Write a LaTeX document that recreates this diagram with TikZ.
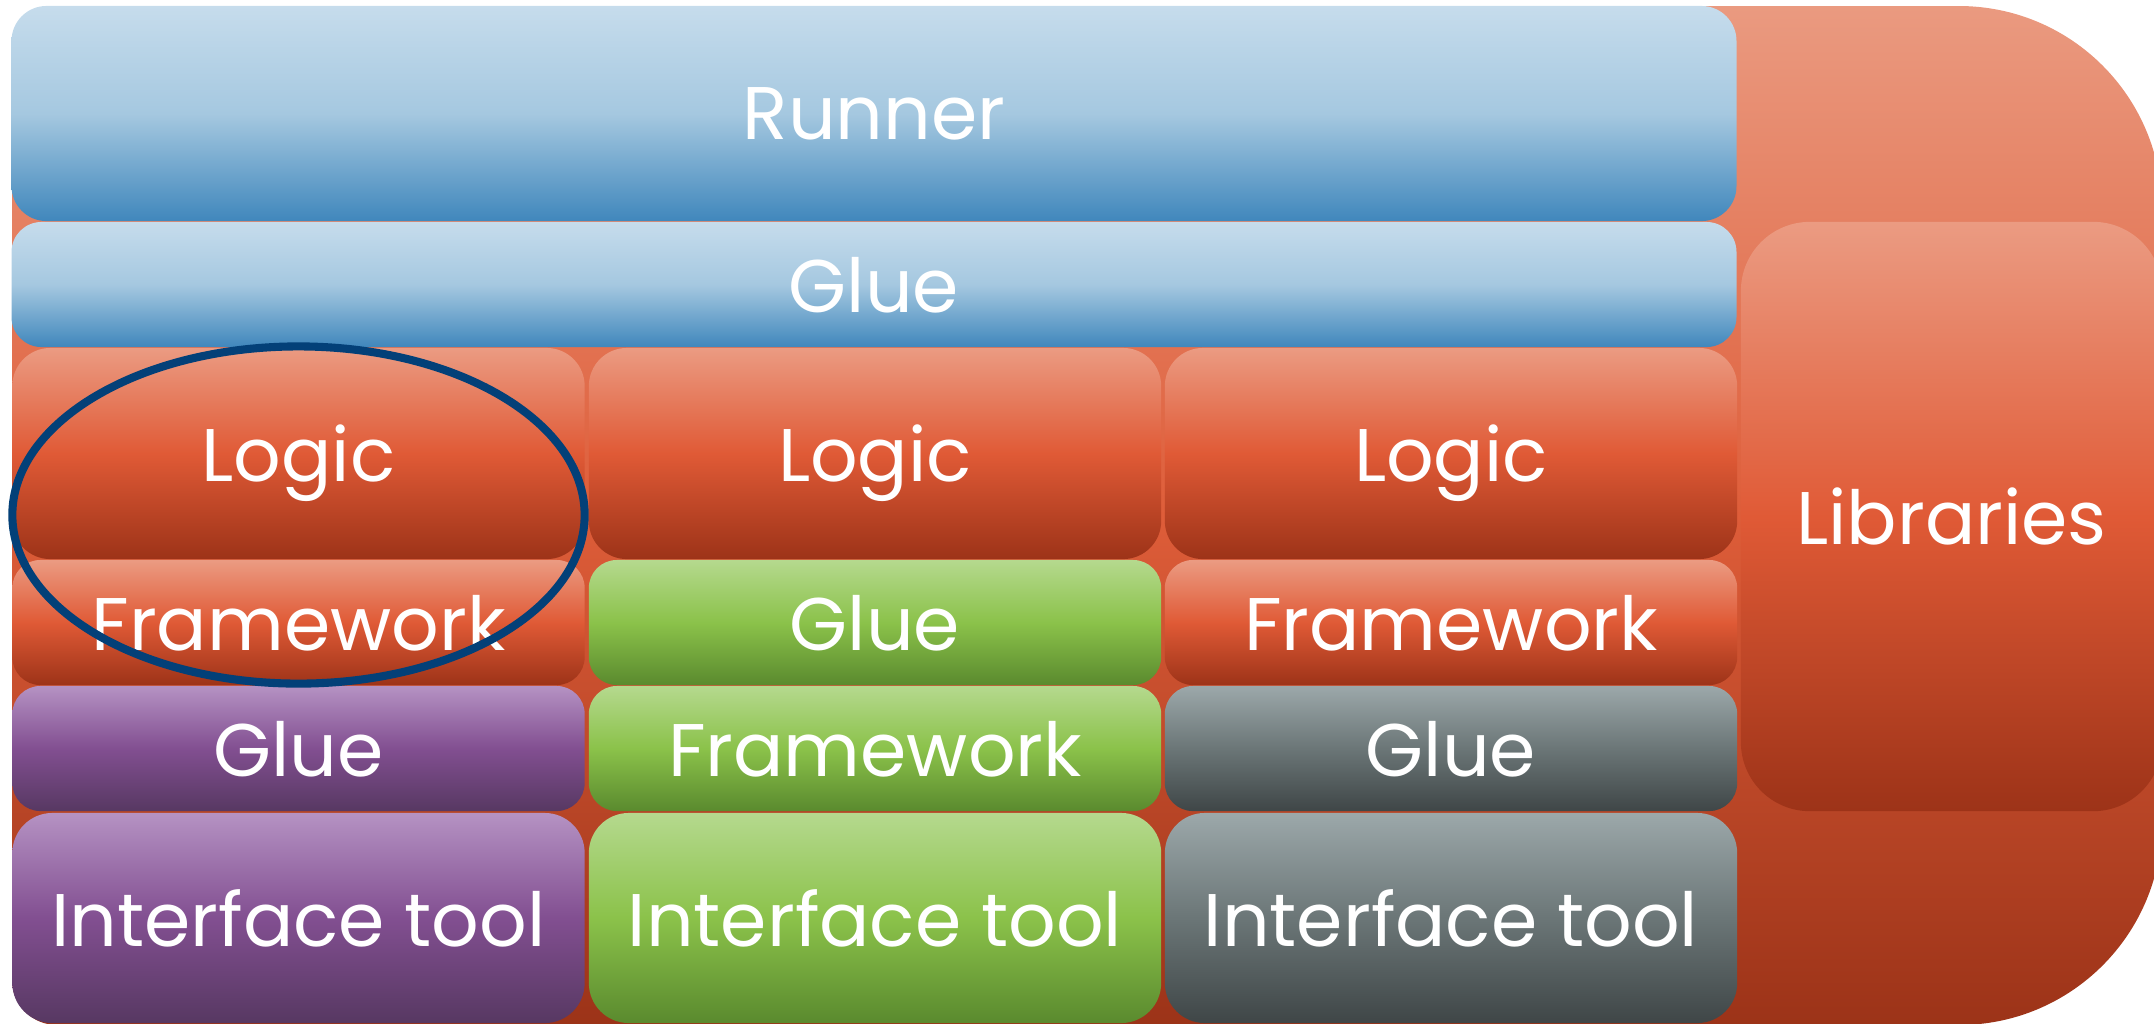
\documentclass[tikz,border=0pt]{standalone}
\usepackage{fontspec}
\setmainfont{Poppins}
\usetikzlibrary{shapes.geometric}

% gradient colours
\definecolor{blueTop}{HTML}{C6DCEC}
\definecolor{blueMid}{HTML}{A5C8E0}
\definecolor{blueBot}{HTML}{4087BC}
\definecolor{orTop}{HTML}{EB9B82}
\definecolor{orMid}{HTML}{E05A36}
\definecolor{orBot}{HTML}{9D3318}
\definecolor{grTop}{HTML}{B5D98E}
\definecolor{grMid}{HTML}{8BC24A}
\definecolor{grBot}{HTML}{5A8A2E}
\definecolor{puTop}{HTML}{B592C3}
\definecolor{puMid}{HTML}{824F91}
\definecolor{puBot}{HTML}{573862}
\definecolor{gyTop}{HTML}{9CA8AA}
\definecolor{gyMid}{HTML}{6B7677}
\definecolor{gyBot}{HTML}{3F4647}
\definecolor{bgTop}{HTML}{EA9A80}
\definecolor{bgMid}{HTML}{DE5D39}
\definecolor{bgBot}{HTML}{9C3318}
\definecolor{ringBlue}{HTML}{034078}

\tikzset{
  blk/.style={rectangle, rounded corners=#1, inner sep=0pt, text=white,
    text depth=0pt, font=\fontsize{21.2}{25}\selectfont},
  blueshade/.style={top color=blueTop, bottom color=blueBot, middle color=blueMid},
  orshade/.style={top color=orTop, bottom color=orBot, middle color=orMid},
  grshade/.style={top color=grTop, bottom color=grBot, middle color=grMid},
  pushade/.style={top color=puTop, bottom color=puBot, middle color=puMid},
  gyshade/.style={top color=gyTop, bottom color=gyBot, middle color=gyMid},
  bgshade/.style={top color=bgTop, bottom color=bgBot, middle color=bgMid},
  col/.style={minimum width=5.72cm},
  tallrow/.style={minimum height=2.11cm},
  thinrow/.style={minimum height=1.25cm},
  ring/.style={ellipse, draw=ringBlue, line width=2.3pt, inner sep=0pt}
}

\begin{document}
\begin{tikzpicture}[x=0.01cm, y=-0.01cm]
  \useasboundingbox (0,0) rectangle (2154,1023);
  \clip (0,0) rectangle (2154,1023);

  % backing panel: large rounding on the right, small on the left
  \path[bgshade] (1087,6) [rounded corners=2.03cm] -- (2162,6) -- (2162,1025)
    -- (1087,1025) [rounded corners=0.45cm] -- (12,1025) -- (12,6) -- cycle;

  % full-width layers
  \node[blk=0.35cm, blueshade, minimum width=17.24cm, minimum height=2.15cm]
    (runner) at (874,113.5) {Runner};
  \node[blk=0.30cm, blueshade, minimum width=17.24cm, thinrow]
    (glueTop) at (874,284.5) {Glue};

  % libraries column
  \node[blk=0.69cm, orshade, minimum width=4.21cm, minimum height=5.89cm]
    (libs) at (1951.5,516.5) {Libraries};

  % logic row
  \node[blk=0.38cm, orshade, col, tallrow] (logicA) at (298.5,453.5) {Logic};
  \node[blk=0.38cm, orshade, col, tallrow] (logicB) at (875,453.5) {Logic};
  \node[blk=0.38cm, orshade, col, tallrow] (logicC) at (1451,453.5) {Logic};

  % framework / glue row
  \node[blk=0.28cm, orshade, col, thinrow] (fwA) at (298.5,622.5) {Framework};
  \node[blk=0.28cm, grshade, col, thinrow] (glueB) at (875,622.5) {Glue};
  \node[blk=0.28cm, orshade, col, thinrow] (fwC) at (1451,622.5) {Framework};

  % glue / framework row
  \node[blk=0.28cm, pushade, col, thinrow] (glueA) at (298.5,748.5) {Glue};
  \node[blk=0.28cm, grshade, col, thinrow] (fwB) at (875,748.5) {Framework};
  \node[blk=0.28cm, gyshade, col, thinrow] (glueC) at (1451,748.5) {Glue};

  % interface tools
  \node[blk=0.40cm, pushade, col, minimum height=2.10cm] (uiA) at (298.5,918) {Interface tool};
  \node[blk=0.40cm, grshade, col, minimum height=2.10cm] (uiB) at (875,918) {Interface tool};
  \node[blk=0.40cm, gyshade, col, minimum height=2.10cm] (uiC) at (1451,918) {Interface tool};

  % highlight ring round the first logic/framework pair
  \node[ring, minimum width=5.72cm, minimum height=3.37cm] (focus) at (298.5,515) {};
\end{tikzpicture}
\end{document}
